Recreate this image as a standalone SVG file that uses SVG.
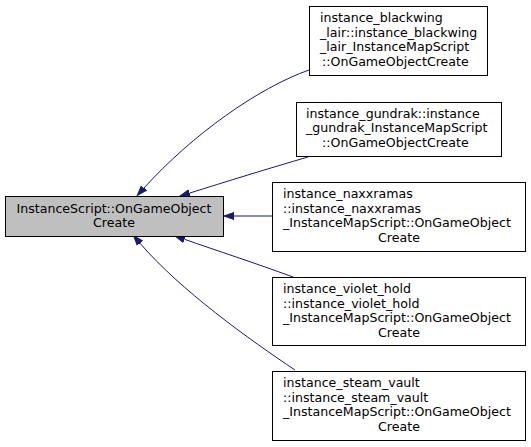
<svg xmlns="http://www.w3.org/2000/svg" width="531" height="447" viewBox="0 0 531 447">
<style>
.n rect{fill:#ffffff;stroke:#000000;stroke-width:1}
.n.main rect{fill:#bfbfbf}
text{font-family:"DejaVu Sans",sans-serif;font-size:12.6px;fill:#000000}
.m{text-anchor:middle}
.e path{fill:none;stroke:#191970;stroke-width:1}
</style>
<defs>
<marker id="ah" markerUnits="userSpaceOnUse" markerWidth="12" markerHeight="10" refX="0" refY="0" viewBox="0 -5 12 10" orient="auto">
<path d="M0,-3.5 L10,0 L0,3.5 z" fill="#191970" stroke="#191970" stroke-width="1"/>
</marker>
</defs>
<rect width="531" height="447" fill="#ffffff"/>
<g id="edges" class="e">
<path d="M309,70 C258,88 192,135 144,188" marker-end="url(#ah)"/>
<path d="M308,157 C270,168 225,182 189.6,193.1" marker-end="url(#ah)"/>
<path d="M272,216 L234,216" marker-end="url(#ah)"/>
<path d="M293,277 C255,263 215,250 184.5,239.3" marker-end="url(#ah)"/>
<path d="M295,370 C250,340 180,290 140,243.2" marker-end="url(#ah)"/>
</g>
<g id="main" class="n main">
<rect x="5.5" y="196.5" width="218" height="40"/>
<text class="m" x="114" y="213">InstanceScript::OnGameObject</text>
<text class="m" x="114" y="227">Create</text>
</g>
<g id="blackwing" class="n">
<rect x="309.5" y="6.5" width="178" height="69"/>
<text x="320" y="22">instance_blackwing</text>
<text x="320" y="36.5">_lair::instance_blackwing</text>
<text x="320" y="51">_lair_InstanceMapScript</text>
<text x="322" y="65.5">::OnGameObjectCreate</text>
</g>
<g id="gundrak" class="n">
<rect x="296.5" y="102.5" width="205" height="54"/>
<text x="306" y="117.5">instance_gundrak::instance</text>
<text x="306" y="132">_gundrak_InstanceMapScript</text>
<text x="322" y="146.5">::OnGameObjectCreate</text>
</g>
<g id="naxxramas" class="n">
<rect x="272.5" y="182.5" width="253" height="69"/>
<text x="283" y="198">instance_naxxramas</text>
<text x="283" y="212.5">::instance_naxxramas</text>
<text x="283" y="227">_InstanceMapScript::OnGameObject</text>
<text class="m" x="399" y="241.5">Create</text>
</g>
<g id="violet_hold" class="n">
<rect x="272.5" y="277.5" width="253" height="68"/>
<text x="283" y="293">instance_violet_hold</text>
<text x="283" y="307.5">::instance_violet_hold</text>
<text x="283" y="322">_InstanceMapScript::OnGameObject</text>
<text class="m" x="399" y="336.5">Create</text>
</g>
<g id="steam_vault" class="n">
<rect x="272.5" y="371.5" width="253" height="69"/>
<text x="283" y="387">instance_steam_vault</text>
<text x="283" y="401.5">::instance_steam_vault</text>
<text x="283" y="416">_InstanceMapScript::OnGameObject</text>
<text class="m" x="399" y="430.5">Create</text>
</g>
</svg>
